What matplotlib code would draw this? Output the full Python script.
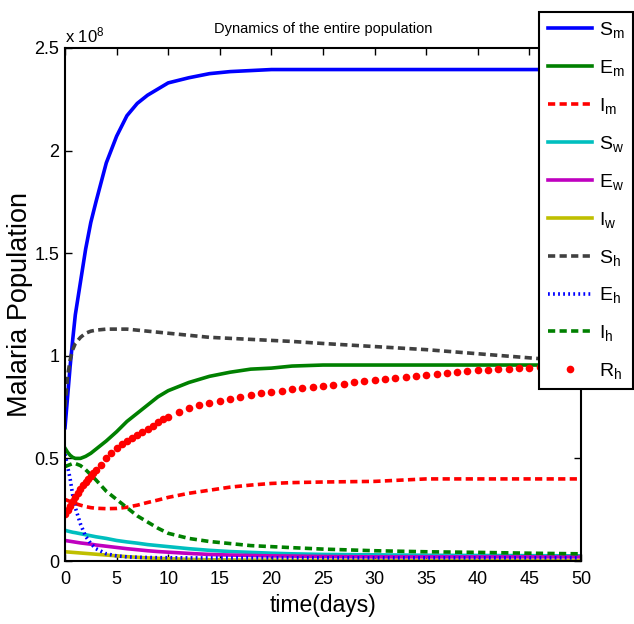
import numpy as np
import matplotlib.pyplot as plt
from matplotlib.ticker import FuncFormatter

plt.rcParams['font.family'] = ['Liberation Sans', 'DejaVu Sans']
plt.rcParams['mathtext.fontset'] = 'custom'
plt.rcParams['mathtext.rm'] = 'Liberation Sans'
plt.rcParams['mathtext.it'] = 'Liberation Sans:italic'

# time points for the line series (days)
t = [0, 0.25, 0.5, 0.75, 1, 1.5, 2, 2.5, 3, 4, 5, 6, 7, 8, 9, 10,
     12, 14, 16, 18, 20, 22, 25, 30, 35, 40, 45, 50]

# populations in units of 1e8
S_m = [0.65, 0.80, 0.95, 1.08, 1.20, 1.36, 1.52, 1.65, 1.75, 1.94, 2.07, 2.17, 2.23, 2.27,
       2.30, 2.33, 2.355, 2.375, 2.385, 2.39, 2.395, 2.395, 2.395, 2.395, 2.395, 2.395, 2.395, 2.395]
E_m = [0.55, 0.53, 0.515, 0.505, 0.50, 0.50, 0.51, 0.525, 0.545, 0.585, 0.63, 0.68, 0.72, 0.76,
       0.80, 0.83, 0.87, 0.90, 0.92, 0.935, 0.94, 0.95, 0.955, 0.955, 0.955, 0.955, 0.955, 0.955]
I_m = [0.30, 0.295, 0.29, 0.285, 0.28, 0.272, 0.265, 0.26, 0.257, 0.255, 0.256, 0.262, 0.272, 0.285,
       0.297, 0.31, 0.33, 0.345, 0.36, 0.37, 0.378, 0.382, 0.385, 0.388, 0.40, 0.40, 0.40, 0.40]
S_w = [0.15, 0.146, 0.143, 0.14, 0.138, 0.133, 0.128, 0.123, 0.118, 0.11, 0.10, 0.093, 0.087, 0.08,
       0.075, 0.07, 0.06, 0.052, 0.046, 0.042, 0.038, 0.035, 0.032, 0.03, 0.028, 0.027, 0.026, 0.025]
E_w = [0.10, 0.098, 0.096, 0.094, 0.092, 0.088, 0.085, 0.082, 0.078, 0.072, 0.066, 0.06, 0.055, 0.05,
       0.046, 0.043, 0.037, 0.032, 0.029, 0.027, 0.025, 0.024, 0.022, 0.02, 0.02, 0.02, 0.02, 0.02]
I_w = [0.045, 0.044, 0.043, 0.042, 0.041, 0.039, 0.037, 0.035, 0.033, 0.029, 0.025, 0.021, 0.018, 0.015,
       0.013, 0.011, 0.008, 0.006, 0.005, 0.004, 0.004, 0.003, 0.003, 0.002, 0.002, 0.002, 0.002, 0.002]
S_h = [0.75, 0.90, 0.98, 1.03, 1.06, 1.09, 1.11, 1.12, 1.125, 1.13, 1.13, 1.13, 1.125, 1.12,
       1.115, 1.11, 1.10, 1.09, 1.085, 1.08, 1.075, 1.07, 1.06, 1.045, 1.03, 1.01, 0.99, 0.97]
E_h = [0.52, 0.46, 0.40, 0.32, 0.26, 0.18, 0.12, 0.085, 0.06, 0.035, 0.025, 0.02, 0.018, 0.017,
       0.016, 0.016, 0.015, 0.015, 0.015, 0.015, 0.015, 0.015, 0.015, 0.015, 0.015, 0.015, 0.015, 0.015]
I_h = [0.46, 0.465, 0.47, 0.475, 0.475, 0.465, 0.445, 0.42, 0.395, 0.34, 0.30, 0.26, 0.22, 0.19,
       0.16, 0.135, 0.11, 0.095, 0.085, 0.075, 0.07, 0.065, 0.058, 0.05, 0.045, 0.042, 0.038, 0.035]

# recovered humans, plotted as dots at solver steps
t_rh = [0, 0.25, 0.5, 0.75, 1, 1.25, 1.5, 1.75, 2, 2.25, 2.5, 2.75, 3, 3.5, 4, 4.5, 5, 5.5, 6,
        6.5, 7, 7.5, 8, 8.5, 9, 9.5, 10,
        11, 12, 13, 14, 15, 16, 17, 18, 19, 20, 21, 22, 23, 24, 25, 26, 27, 28, 29, 30,
        31, 32, 33, 34, 35, 36, 37, 38, 39, 40, 41, 42, 43, 44, 45, 46, 47, 48, 49, 50]
R_h = [0.23, 0.25, 0.27, 0.29, 0.31, 0.33, 0.35, 0.368, 0.385, 0.40, 0.415, 0.43, 0.445, 0.47,
       0.50, 0.525, 0.55, 0.57, 0.585, 0.60,
       0.615, 0.63, 0.645, 0.66, 0.675, 0.69, 0.70, 0.725, 0.745, 0.76, 0.77, 0.78, 0.79, 0.80,
       0.81, 0.82, 0.825, 0.83, 0.84, 0.845, 0.85, 0.855, 0.86, 0.865, 0.87, 0.875, 0.88, 0.885,
       0.89, 0.895, 0.90, 0.905, 0.91, 0.915, 0.92, 0.925, 0.93, 0.932, 0.935, 0.937, 0.94, 0.942,
       0.945, 0.948, 0.95, 0.952, 0.955]

fig = plt.figure(figsize=(6.34, 6.24), dpi=100)
ax = fig.add_axes([65/634, 1 - 561/624, (581 - 65)/634, (561 - 48)/624])

lw = 2.6
ax.plot(t, S_m, color=(0, 0, 1), lw=lw, label=r'$\mathrm{S_m}$')
ax.plot(t, E_m, color=(0, 0.5, 0), lw=lw, label=r'$\mathrm{E_m}$')
ax.plot(t, I_m, color=(1, 0, 0), lw=lw, dashes=(2, 1.2), label=r'$\mathrm{I_m}$')
ax.plot(t, S_w, color=(0, 0.75, 0.75), lw=lw, label=r'$\mathrm{S_w}$')
ax.plot(t, E_w, color=(0.75, 0, 0.75), lw=lw, label=r'$\mathrm{E_w}$')
ax.plot(t, I_w, color=(0.75, 0.75, 0), lw=lw, label=r'$\mathrm{I_w}$')
ax.plot(t, S_h, color=(0.25, 0.25, 0.25), lw=lw, dashes=(2, 1.2), label=r'$\mathrm{S_h}$')
ax.plot(t, E_h, color=(0, 0, 1), lw=lw, dashes=(0.5, 0.9), label=r'$\mathrm{E_h}$')
ax.plot(t, I_h, color=(0, 0.5, 0), lw=lw, dashes=(2, 1.2), label=r'$\mathrm{I_h}$')
ax.plot(t_rh, R_h, 'o', color=(1, 0, 0), ms=5.5, mec='none', label=r'$\mathrm{R_h}$')

ax.set_xlim(0, 50)
ax.set_ylim(0, 2.5)
ax.set_xticks(np.arange(0, 51, 5))
ax.set_yticks([0, 0.5, 1, 1.5, 2, 2.5])
ax.yaxis.set_major_formatter(FuncFormatter(lambda v, p: '%g' % v))
ax.tick_params(direction='in', top=True, right=True, length=5, width=1,
               labelsize=13)
ax.tick_params(axis='x', pad=7)
ax.tick_params(axis='y', pad=4)
for s in ax.spines.values():
    s.set_linewidth(1.5)

ax.text(0.0, 1.005, r'x 10$^{8}$', transform=ax.transAxes, fontsize=12,
        ha='left', va='bottom')
ax.set_title('Dynamics of the entire population', fontsize=10.5, pad=11)
ax.set_xlabel('time(days)', fontsize=16.5)
ax.xaxis.set_label_coords(0.5, -0.064)
ax.set_ylabel('Malaria Population', fontsize=19.5)
ax.yaxis.set_label_coords(-0.062, 0.5)

leg = fig.legend(loc='upper right', bbox_to_anchor=(633/634, 1 - 12/624),
                 fontsize=14, handlelength=2.3, labelspacing=0.92,
                 fancybox=False, framealpha=1, edgecolor='black',
                 borderpad=0.42, handletextpad=0.35, borderaxespad=0)
leg.get_frame().set_linewidth(1.5)

fig.savefig('out.png', dpi=100)
